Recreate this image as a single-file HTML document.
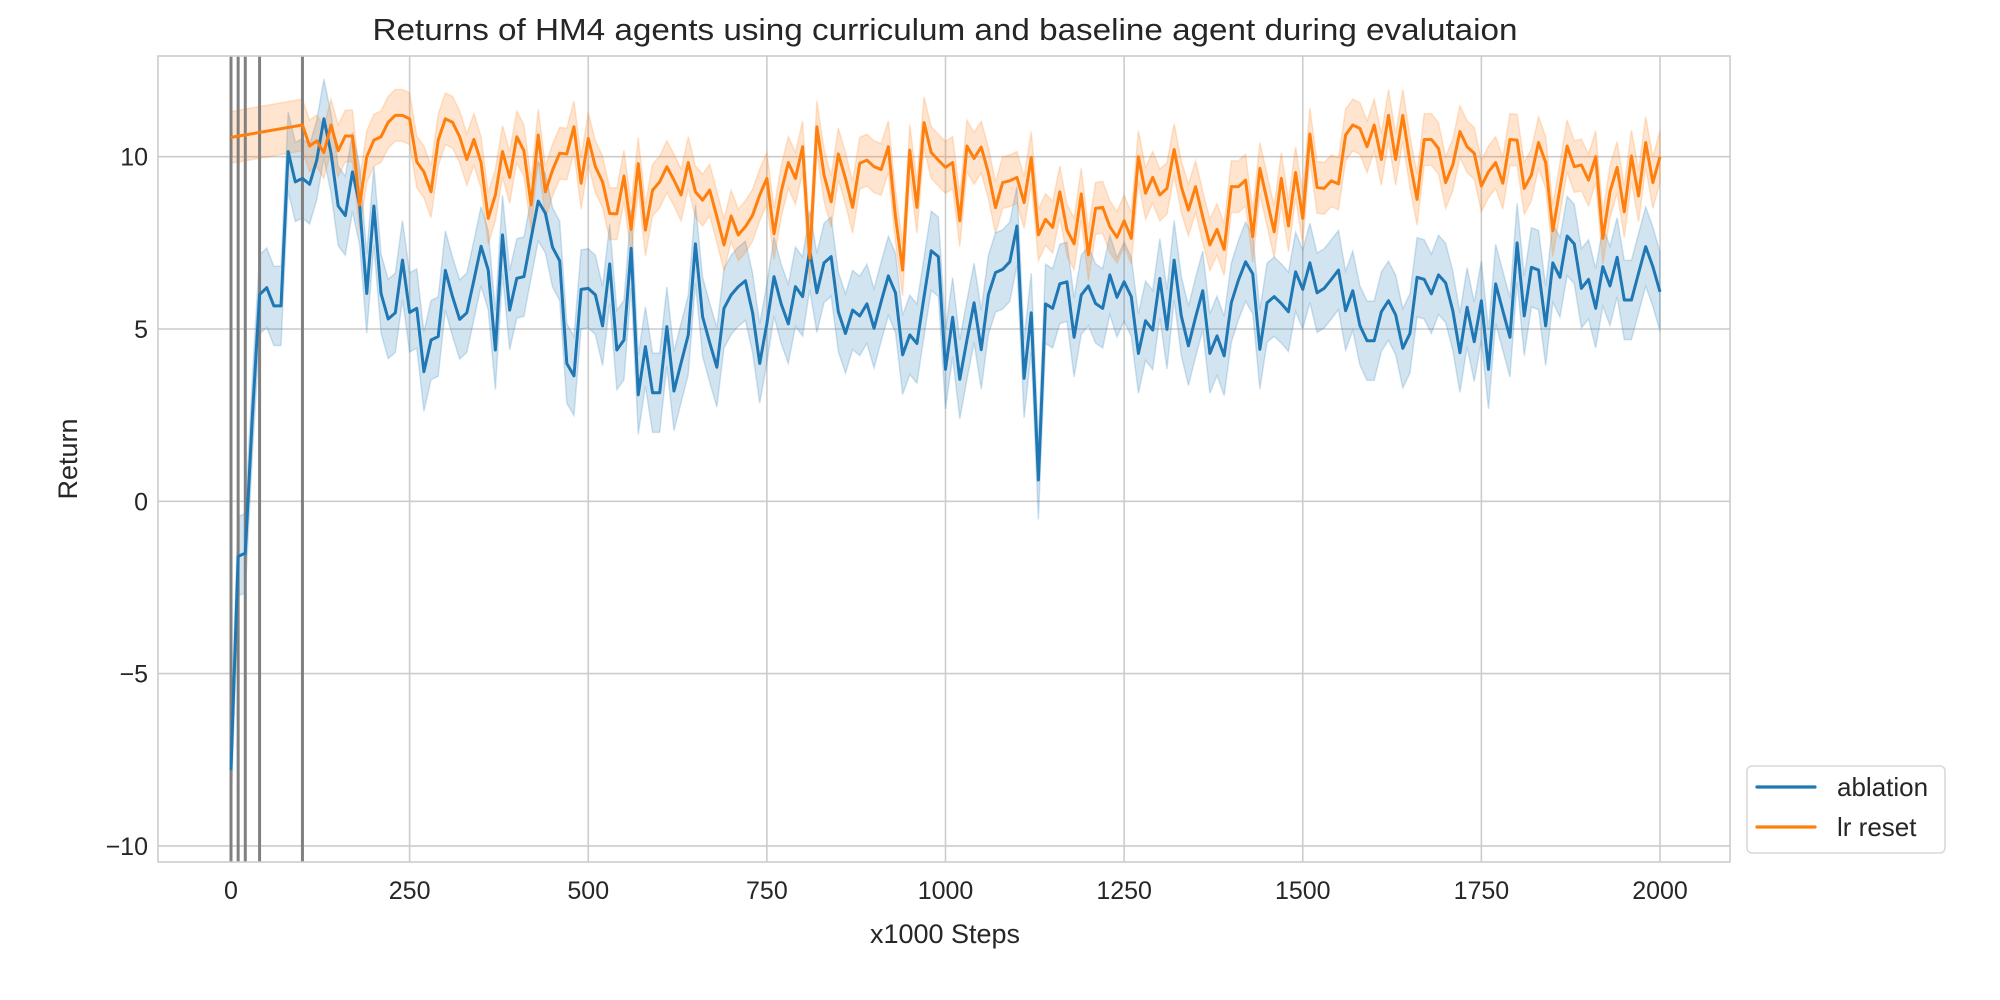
<!DOCTYPE html>
<html><head><meta charset="utf-8"><style>
html,body{margin:0;padding:0;background:#fff;}
svg{display:block;font-family:"Liberation Sans",Arial,sans-serif;}
</style></head><body>
<svg id="chart" width="2000" height="1000" viewBox="0 0 2000 1000">
<rect width="2000" height="1000" fill="#fff"/>
<text x="945" y="40" font-size="31" text-anchor="middle" textLength="1145" lengthAdjust="spacingAndGlyphs" fill="#262626">Returns of HM4 agents using curriculum and baseline agent during evalutaion</text>
<g id="grid"></g>
<g id="bands"></g>
<g id="vlines"></g>
<g id="lines"></g>
<g id="ticks"></g>
<rect x="158" y="56" width="1572" height="806" fill="none" stroke="#cccccc" stroke-width="1.6"/>
<text x="945" y="943" font-size="27" text-anchor="middle" fill="#262626">x1000 Steps</text>
<text x="0" y="0" font-size="27" text-anchor="middle" fill="#262626" transform="translate(77,459) rotate(-90)">Return</text>
<g>
<rect x="1747" y="766" width="198" height="87" rx="5" fill="#fff" stroke="#d9d9d9" stroke-width="1.6"/>
<g>
<line x1="1757" y1="787" x2="1815" y2="787" stroke="#1f77b4" stroke-width="3.2" stroke-linecap="round"/>
<text x="1837" y="796" font-size="26" fill="#262626">ablation</text></g>
<g>
<line x1="1757" y1="827" x2="1815" y2="827" stroke="#ff7f0e" stroke-width="3.2" stroke-linecap="round"/>
<text x="1837" y="836" font-size="26" fill="#262626">lr reset</text></g>
</g>
</svg>
<script>
const xTicks=[0,250,500,750,1000,1250,1500,1750,2000];
const yTicks=[-10,-5,0,5,10];
const vMarkers=[0,10,20,40,100];
const blueSteps=[];for(let s=0;s<=2000;s+=10)blueSteps.push(s);
const blueVals=[-7.8,-1.6,-1.5,2.5,6.0,6.2,5.67,5.67,10.15,9.27,9.37,9.2,9.9,11.1,10.1,8.57,8.29,9.56,8.6,6.03,8.57,6.03,5.29,5.47,7.0,5.48,5.6,3.76,4.68,4.78,6.7,5.94,5.28,5.47,6.42,7.4,6.71,4.39,7.73,5.55,6.47,6.52,7.63,8.71,8.36,7.37,6.98,4.0,3.64,6.15,6.18,5.99,5.09,6.89,4.39,4.68,7.34,3.09,4.49,3.15,3.15,5.07,3.2,4.02,4.83,7.47,5.36,4.6,3.89,5.6,5.99,6.23,6.4,5.47,4.0,5.16,6.52,5.73,5.15,6.23,5.94,7.29,6.05,6.92,7.1,5.5,4.87,5.55,5.38,5.73,5.02,5.8,6.54,6.05,4.25,4.83,4.58,5.94,7.27,7.1,3.83,5.34,3.54,4.68,5.76,4.4,5.99,6.64,6.73,6.95,7.99,3.57,5.47,0.62,5.73,5.6,6.31,6.37,4.76,5.99,6.25,5.74,5.6,6.57,5.92,6.37,5.94,4.29,5.24,4.97,6.47,4.99,7.0,5.38,4.51,5.34,6.11,4.29,4.8,4.22,5.76,6.42,6.95,6.6,4.41,5.76,5.94,5.74,5.5,6.66,6.15,6.92,6.05,6.18,6.44,6.71,5.53,6.11,5.1,4.66,4.66,5.5,5.82,5.41,4.44,4.87,6.5,6.44,6.02,6.57,6.34,5.53,4.31,5.63,4.63,5.82,3.83,6.31,5.53,4.76,7.5,5.38,6.79,6.71,5.09,6.92,6.5,7.7,7.47,6.18,6.44,5.6,6.81,6.25,7.08,5.84,5.84,6.62,7.39,6.81,6.08];
const orangeSteps=[0];for(let s=100;s<=2000;s+=10)orangeSteps.push(s);
const orangeVals=[10.56,10.92,10.31,10.46,10.12,10.92,10.17,10.6,10.6,8.6,10.0,10.48,10.58,11.0,11.2,11.2,11.1,9.85,9.56,8.98,10.48,11.1,11.0,10.58,9.92,10.5,9.83,8.21,8.89,10.15,9.4,10.58,10.17,8.6,10.63,8.98,9.61,10.1,10.08,10.87,9.23,10.53,9.71,9.27,8.35,8.34,9.44,7.89,9.8,7.87,9.03,9.27,9.71,9.32,8.89,9.83,8.98,8.74,9.03,8.26,7.44,8.28,7.73,7.97,8.3,8.89,9.37,7.76,8.98,9.83,9.37,10.29,7.05,10.87,9.47,8.69,10.08,9.37,8.53,9.81,9.9,9.71,9.63,10.29,8.26,6.71,10.19,8.53,10.99,10.12,9.9,9.69,9.83,8.14,10.31,9.95,10.28,9.53,8.52,9.25,9.3,9.4,8.67,9.98,7.73,8.18,7.95,8.98,7.87,7.47,8.92,7.15,8.5,8.53,7.97,7.66,8.14,7.63,10.0,8.94,9.4,8.89,9.08,10.21,9.13,8.45,9.13,8.26,7.44,7.89,7.31,9.13,9.13,9.32,7.68,9.66,8.74,7.82,9.37,7.99,9.54,8.21,10.66,9.11,9.08,9.3,9.21,10.63,10.92,10.82,10.29,10.92,9.92,11.2,9.92,11.2,9.85,8.76,10.5,10.5,10.24,9.25,9.76,10.73,10.29,10.1,9.15,9.56,9.83,9.23,10.5,10.48,9.08,9.47,10.41,9.83,7.85,9.08,10.31,9.71,9.76,9.32,10.0,7.63,8.98,9.69,8.4,10.02,8.86,10.41,9.25,10.0];
const blueCI=[1.15];
const orangeCI=[0.75];

const X0=231,X1=1660,Y10=156.7,Y5=329;
function sx(v){return X0+(X1-X0)*v/2000;}
function sy(v){return Y5-(v-5)*(Y5-Y10)/5;}
const NS="http://www.w3.org/2000/svg";
function mk(tag,attrs,parent){const e=document.createElementNS(NS,tag);for(const k in attrs)e.setAttribute(k,attrs[k]);parent.appendChild(e);return e;}
const grid=document.getElementById('grid'),ticks=document.getElementById('ticks');
xTicks.forEach(t=>{
  const l=mk('line',{x1:sx(t),x2:sx(t),y1:56,y2:862,stroke:'#cccccc','stroke-width':1.6},grid);
  
  
  const tx=mk('text',{x:sx(t),y:899,'font-size':25,'text-anchor':'middle',fill:'#262626'},ticks);
  tx.textContent=String(t);
  
  
});
yTicks.forEach(t=>{
  const l=mk('line',{x1:158,x2:1730,y1:sy(t),y2:sy(t),stroke:'#cccccc','stroke-width':1.6},grid);
  
  
  const tx=mk('text',{x:148,y:sy(t)+9,'font-size':25,'text-anchor':'end',fill:'#262626'},ticks);
  tx.textContent=(t<0?'\u2212'+Math.abs(t):String(t));
  
  
});
function band(steps,vals,ci,color,name){
  let up=steps.map((s,i)=>sx(s)+','+sy(vals[i]+ci));
  let dn=steps.map((s,i)=>sx(s)+','+sy(vals[i]-ci)).reverse();
  const p=mk('polygon',{points:up.concat(dn).join(' '),fill:color,'fill-opacity':0.2,stroke:color,'stroke-opacity':0.2,'stroke-width':1.5},document.getElementById('bands'));
  
  
}
function line(steps,vals,color,name){
  const p=mk('polyline',{points:steps.map((s,i)=>sx(s)+','+sy(vals[i])).join(' '),fill:'none',stroke:color,'stroke-width':3,'stroke-linejoin':'round'},document.getElementById('lines'));
  
  
}
band(blueSteps,blueVals,blueCI[0],'#1f77b4','ablation-ci-band');
band(orangeSteps,orangeVals,orangeCI[0],'#ff7f0e','lr-reset-ci-band');
vMarkers.forEach(m=>{
  const l=mk('line',{x1:sx(m),x2:sx(m),y1:56,y2:862,stroke:'#808080','stroke-width':3},document.getElementById('vlines'));
  
  
});
line(blueSteps,blueVals,'#1f77b4','ablation-line');
line(orangeSteps,orangeVals,'#ff7f0e','lr-reset-line');
</script>
</body></html>
